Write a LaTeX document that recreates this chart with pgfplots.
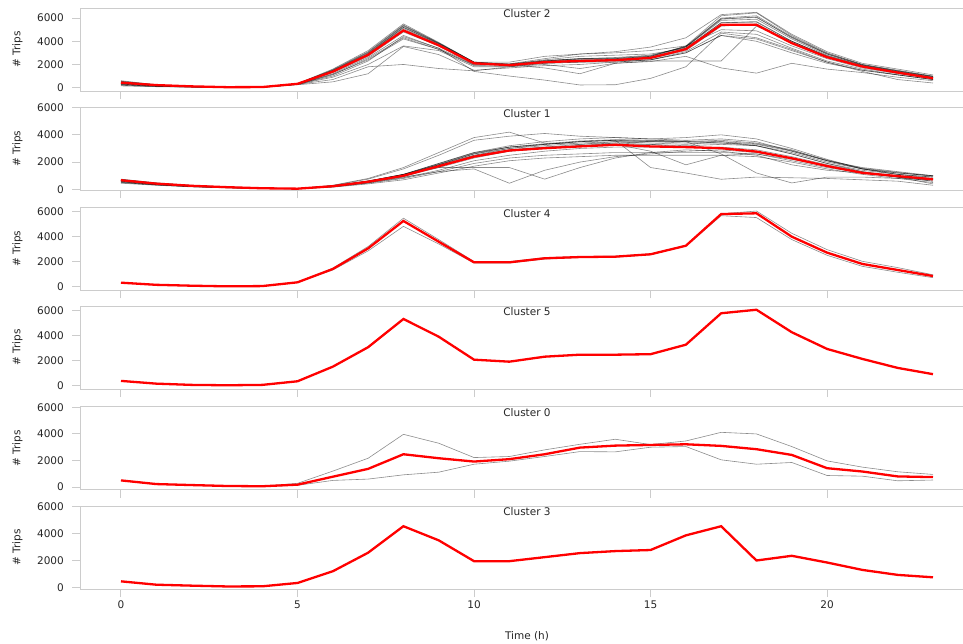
\documentclass[border=0pt]{standalone}
\usepackage{pgfplots}
\pgfplotsset{compat=1.18}
\usepackage{fontspec}
\setmainfont{DejaVu Sans}
\definecolor{spine}{HTML}{CCCCCC}
\definecolor{txt}{HTML}{262626}
\newcommand{\lbl}{\fontsize{10.5}{12}\selectfont}
\newcommand{\ptitle}[1]{\node[font=\lbl, text=txt] at (rel axis cs:0.506,0.928) {#1};}
\pgfplotsset{
  panel/.style={
    scale only axis, width=882.6pt, height=83pt,
    xmin=-1.15, xmax=23.85,
    axis x line=box, axis y line*=left,
    axis line style={spine, line width=1pt},
    xtick={0,5,10,15,20}, ytick={0,2000,4000,6000},
    xtick pos=left, ytick pos=left,
    tick align=outside, major tick length=8pt,
    tick style={spine, line width=1pt},
    scaled y ticks=false,
    /pgf/number format/1000 sep={},
    /pgf/number format/assume math mode=true,
    tick label style={font=\lbl, text=txt},
    yticklabel={\pgfmathprintnumber{\tick}\kern5pt},
    ylabel={\# Trips},
    ylabel style={at={(axis description cs:-0.0713,0.5)}, anchor=center, font=\lbl, text=txt},
  },
  gr/.style={black, opacity=0.45, line width=0.6pt},
  rd/.style={red, line width=2.3pt},
}
\begin{document}
\begin{tikzpicture}
\path[use as bounding box] (-80.4pt,0pt) rectangle (882.6pt,-643pt);

% Cluster 2
\begin{axis}[panel, at={(0pt,-8pt)}, anchor=north west, ymin=-290, ymax=6870, xticklabels={}]
\addplot[gr] coordinates {(0,600)(1,250)(2,120)(3,50)(4,60)(5,350)(6,1600)(7,3200)(8,5500)(9,3900)(10,2200)(11,2000)(12,2300)(13,2500)(14,2500)(15,2700)(16,3600)(17,6200)(18,6450)(19,4500)(20,3000)(21,2000)(22,1500)(23,1000)};
\addplot[gr] coordinates {(0,500)(1,220)(2,100)(3,40)(4,50)(5,330)(6,1500)(7,3000)(8,5300)(9,3800)(10,2150)(11,1950)(12,2250)(13,2400)(14,2450)(15,2650)(16,3500)(17,5900)(18,6100)(19,4300)(20,2900)(21,1950)(22,1400)(23,950)};
\addplot[gr] coordinates {(0,450)(1,200)(2,100)(3,40)(4,50)(5,320)(6,1450)(7,2950)(8,5200)(9,3750)(10,2150)(11,1900)(12,2300)(13,2500)(14,2600)(15,2800)(16,3500)(17,5800)(18,5900)(19,4200)(20,2800)(21,1900)(22,1400)(23,900)};
\addplot[gr] coordinates {(0,400)(1,200)(2,90)(3,30)(4,40)(5,310)(6,1350)(7,2800)(8,5000)(9,3700)(10,2100)(11,2000)(12,2400)(13,2700)(14,2800)(15,2900)(16,3400)(17,5600)(18,5700)(19,4000)(20,2700)(21,1800)(22,1300)(23,850)};
\addplot[gr] coordinates {(0,350)(1,180)(2,80)(3,30)(4,40)(5,300)(6,1300)(7,2700)(8,4800)(9,3600)(10,2050)(11,1950)(12,2200)(13,2300)(14,2300)(15,2500)(16,3200)(17,5300)(18,5500)(19,3900)(20,2600)(21,1800)(22,1250)(23,800)};
\addplot[gr] coordinates {(0,300)(1,150)(2,80)(3,30)(4,40)(5,300)(6,1200)(7,2600)(8,4500)(9,3400)(10,2000)(11,2050)(12,2500)(13,2900)(14,3000)(15,3200)(16,3600)(17,5000)(18,4900)(19,3600)(20,2500)(21,1700)(22,1200)(23,800)};
\addplot[gr] coordinates {(0,350)(1,170)(2,80)(3,30)(4,40)(5,290)(6,1150)(7,2400)(8,4200)(9,3300)(10,1900)(11,1850)(12,2100)(13,2200)(14,2300)(15,2400)(16,3100)(17,4800)(18,4600)(19,3400)(20,2300)(21,1600)(22,1100)(23,700)};
\addplot[gr] coordinates {(0,250)(1,120)(2,60)(3,20)(4,30)(5,280)(6,900)(7,2000)(8,3600)(9,3200)(10,1800)(11,1800)(12,2100)(13,2200)(14,2200)(15,2400)(16,3000)(17,4500)(18,4200)(19,3200)(20,2200)(21,1500)(22,1100)(23,700)};
\addplot[gr] coordinates {(0,200)(1,100)(2,50)(3,20)(4,30)(5,280)(6,700)(7,1800)(8,2000)(9,1650)(10,1450)(11,1800)(12,2000)(13,1650)(14,2100)(15,2300)(16,2300)(17,2300)(18,5300)(19,4000)(20,2700)(21,1800)(22,1300)(23,850)};
\addplot[gr] coordinates {(0,150)(1,80)(2,40)(3,20)(4,30)(5,250)(6,500)(7,1200)(8,3550)(9,2850)(10,1500)(11,1700)(12,1900)(13,2000)(14,2200)(15,2400)(16,3000)(17,4500)(18,4000)(19,3000)(20,2100)(21,1500)(22,1100)(23,700)};
\addplot[gr] coordinates {(0,250)(1,120)(2,60)(3,20)(4,30)(5,300)(6,1000)(7,2300)(8,4400)(9,3400)(10,1400)(11,1000)(12,650)(13,230)(14,250)(15,800)(16,1800)(17,4700)(18,4300)(19,3300)(20,2200)(21,1400)(22,700)(23,400)};
\addplot[gr] coordinates {(0,300)(1,150)(2,70)(3,30)(4,40)(5,300)(6,1100)(7,2500)(8,4300)(9,3300)(10,1950)(11,1950)(12,1700)(13,1200)(14,2100)(15,2250)(16,2700)(17,1700)(18,1250)(19,2100)(20,1600)(21,1300)(22,900)(23,600)};
\addplot[gr] coordinates {(0,480)(1,230)(2,110)(3,40)(4,50)(5,340)(6,1450)(7,2900)(8,5100)(9,3700)(10,2150)(11,1950)(12,2250)(13,2350)(14,2400)(15,2600)(16,3400)(17,5600)(18,5650)(19,4000)(20,2750)(21,1900)(22,1350)(23,850)};
\addplot[gr] coordinates {(0,550)(1,240)(2,110)(3,45)(4,55)(5,340)(6,1550)(7,3100)(8,5400)(9,3850)(10,2200)(11,2000)(12,2300)(13,2450)(14,2500)(15,2700)(16,3550)(17,6000)(18,6200)(19,4400)(20,2950)(21,2000)(22,1450)(23,980)};
\addplot[gr] coordinates {(0,400)(1,190)(2,90)(3,35)(4,45)(5,310)(6,1400)(7,2900)(8,5200)(9,3800)(10,2200)(11,2200)(12,2700)(13,2900)(14,3100)(15,3500)(16,4300)(17,6300)(18,6500)(19,4600)(20,3100)(21,2100)(22,1600)(23,1100)};
\addplot[gr] coordinates {(0,520)(1,230)(2,110)(3,40)(4,50)(5,340)(6,1500)(7,3050)(8,5350)(9,3850)(10,2200)(11,2050)(12,2350)(13,2500)(14,2550)(15,2750)(16,3550)(17,5950)(18,6050)(19,4350)(20,2900)(21,1950)(22,1450)(23,950)};
\addplot[rd] coordinates {(0,430)(1,220)(2,110)(3,40)(4,50)(5,330)(6,1380)(7,2830)(8,4930)(9,3650)(10,2100)(11,1940)(12,2200)(13,2300)(14,2370)(15,2570)(16,3320)(17,5420)(18,5420)(19,3840)(20,2630)(21,1820)(22,1300)(23,810)};
\ptitle{Cluster 2}
\end{axis}

% Cluster 1
\begin{axis}[panel, at={(0pt,-107.3pt)}, anchor=north west, ymin=-70, ymax=6020, xticklabels={}]
\addplot[gr] coordinates {(0,600)(1,380)(2,230)(3,140)(4,70)(5,50)(6,300)(7,800)(8,1600)(9,2700)(10,3800)(11,4200)(12,3400)(13,3300)(14,3500)(15,3400)(16,3300)(17,3500)(18,3200)(19,2600)(20,1900)(21,1400)(22,1100)(23,900)};
\addplot[gr] coordinates {(0,550)(1,350)(2,220)(3,130)(4,70)(5,50)(6,280)(7,750)(8,1500)(9,2500)(10,3600)(11,3900)(12,4100)(13,3900)(14,3800)(15,3700)(16,3600)(17,3700)(18,3500)(19,2800)(20,2100)(21,1500)(22,1200)(23,1000)};
\addplot[gr] coordinates {(0,700)(1,450)(2,280)(3,170)(4,90)(5,60)(6,250)(7,600)(8,1100)(9,1900)(10,2700)(11,3200)(12,3500)(13,3700)(14,3800)(15,3700)(16,3800)(17,4000)(18,3700)(19,3000)(20,2200)(21,1500)(22,1100)(23,900)};
\addplot[gr] coordinates {(0,750)(1,480)(2,300)(3,180)(4,90)(5,60)(6,240)(7,580)(8,1050)(9,1800)(10,2600)(11,3100)(12,3300)(13,3500)(14,3600)(15,3500)(16,3500)(17,3600)(18,3400)(19,2900)(20,2100)(21,1500)(22,1100)(23,800)};
\addplot[gr] coordinates {(0,650)(1,400)(2,250)(3,150)(4,80)(5,50)(6,220)(7,520)(8,950)(9,1600)(10,2300)(11,2800)(12,3000)(13,3200)(14,3300)(15,3300)(16,3200)(17,3300)(18,3200)(19,2600)(20,1900)(21,1300)(22,1000)(23,700)};
\addplot[gr] coordinates {(0,600)(1,380)(2,230)(3,140)(4,70)(5,50)(6,200)(7,480)(8,850)(9,1400)(10,2100)(11,2500)(12,2800)(13,3000)(14,3100)(15,3100)(16,3100)(17,3100)(18,2900)(19,2400)(20,1800)(21,1300)(22,900)(23,600)};
\addplot[gr] coordinates {(0,500)(1,320)(2,200)(3,120)(4,60)(5,40)(6,180)(7,450)(8,800)(9,1300)(10,1900)(11,2300)(12,2500)(13,2600)(14,2700)(15,2700)(16,2700)(17,2700)(18,2600)(19,2200)(20,1700)(21,1200)(22,900)(23,600)};
\addplot[gr] coordinates {(0,450)(1,300)(2,180)(3,110)(4,60)(5,40)(6,160)(7,400)(8,700)(9,1200)(10,1700)(11,2100)(12,2300)(13,2400)(14,2500)(15,2500)(16,2500)(17,2500)(18,2400)(19,2000)(20,1500)(21,1100)(22,800)(23,500)};
\addplot[gr] coordinates {(0,500)(1,330)(2,200)(3,120)(4,60)(5,40)(6,200)(7,500)(8,900)(9,1300)(10,1500)(11,450)(12,1400)(13,2000)(14,2400)(15,2600)(16,2800)(17,2900)(18,2700)(19,2300)(20,1700)(21,1200)(22,900)(23,400)};
\addplot[gr] coordinates {(0,550)(1,350)(2,210)(3,130)(4,70)(5,50)(6,210)(7,500)(8,1100)(9,1600)(10,1600)(11,1600)(12,750)(13,1600)(14,2300)(15,2700)(16,2900)(17,2800)(18,2500)(19,1800)(20,1400)(21,1200)(22,1000)(23,700)};
\addplot[gr] coordinates {(0,650)(1,400)(2,250)(3,150)(4,80)(5,50)(6,250)(7,600)(8,1100)(9,1900)(10,2700)(11,3100)(12,3300)(13,3500)(14,3600)(15,1600)(16,1200)(17,740)(18,900)(19,850)(20,800)(21,700)(22,600)(23,300)};
\addplot[gr] coordinates {(0,700)(1,430)(2,260)(3,160)(4,80)(5,50)(6,240)(7,580)(8,1000)(9,1700)(10,2500)(11,2900)(12,3100)(13,3200)(14,3400)(15,3500)(16,3500)(17,2600)(18,1200)(19,470)(20,900)(21,900)(22,800)(23,700)};
\addplot[gr] coordinates {(0,680)(1,420)(2,260)(3,160)(4,80)(5,50)(6,230)(7,560)(8,1000)(9,1700)(10,2400)(11,2900)(12,3100)(13,3300)(14,3400)(15,3300)(16,3100)(17,3000)(18,2800)(19,2300)(20,1700)(21,1200)(22,950)(23,750)};
\addplot[gr] coordinates {(0,650)(1,410)(2,260)(3,160)(4,80)(5,50)(6,230)(7,600)(8,1050)(9,1800)(10,2500)(11,3000)(12,3200)(13,3400)(14,3500)(15,3500)(16,3400)(17,3400)(18,3200)(19,2700)(20,2000)(21,1500)(22,1200)(23,1000)};
\addplot[gr] coordinates {(0,700)(1,440)(2,270)(3,170)(4,90)(5,60)(6,260)(7,620)(8,1100)(9,1800)(10,2600)(11,3000)(12,3300)(13,3500)(14,3600)(15,3600)(16,3500)(17,3400)(18,3300)(19,2800)(20,2100)(21,1600)(22,1300)(23,1000)};
\addplot[gr] coordinates {(0,600)(1,380)(2,230)(3,140)(4,70)(5,50)(6,220)(7,540)(8,950)(9,1700)(10,2400)(11,2800)(12,3000)(13,3200)(14,3300)(15,2800)(16,1800)(17,2500)(18,2600)(19,2100)(20,1600)(21,1200)(22,900)(23,700)};
\addplot[gr] coordinates {(0,720)(1,450)(2,280)(3,170)(4,90)(5,60)(6,250)(7,610)(8,1080)(9,1850)(10,2650)(11,3100)(12,3350)(13,3550)(14,3650)(15,3600)(16,3550)(17,3500)(18,3350)(19,2850)(20,2150)(21,1550)(22,1250)(23,950)};
\addplot[rd] coordinates {(0,670)(1,420)(2,260)(3,160)(4,80)(5,50)(6,230)(7,560)(8,1000)(9,1700)(10,2400)(11,2850)(12,3020)(13,3150)(14,3270)(15,3150)(16,3100)(17,3020)(18,2770)(19,2280)(20,1710)(21,1210)(22,970)(23,740)};
\ptitle{Cluster 1}
\end{axis}

% Cluster 4
\begin{axis}[panel, at={(0pt,-207.3pt)}, anchor=north west, ymin=-286, ymax=6317, xticklabels={}]
\addplot[gr] coordinates {(0,330)(1,160)(2,90)(3,35)(4,55)(5,360)(6,1480)(7,3200)(8,5450)(9,3750)(10,2000)(11,2000)(12,2320)(13,2400)(14,2430)(15,2620)(16,3290)(17,5800)(18,6020)(19,4250)(20,2950)(21,2020)(22,1520)(23,950)};
\addplot[gr] coordinates {(0,300)(1,140)(2,70)(3,25)(4,45)(5,340)(6,1330)(7,2850)(8,4800)(9,3400)(10,1880)(11,1880)(12,2200)(13,2320)(14,2350)(15,2540)(16,3230)(17,5650)(18,5500)(19,3750)(20,2500)(21,1620)(22,1150)(23,720)};
\addplot[rd] coordinates {(0,320)(1,150)(2,80)(3,30)(4,50)(5,350)(6,1410)(7,3050)(8,5230)(9,3580)(10,1940)(11,1940)(12,2260)(13,2360)(14,2390)(15,2580)(16,3260)(17,5780)(18,5840)(19,3980)(20,2710)(21,1810)(22,1330)(23,850)};
\ptitle{Cluster 4}
\end{axis}

% Cluster 5
\begin{axis}[panel, at={(0pt,-306pt)}, anchor=north west, ymin=-250, ymax=6400, xticklabels={}]
\addplot[rd] coordinates {(0,400)(1,180)(2,80)(3,50)(4,80)(5,370)(6,1540)(7,3100)(8,5360)(9,3940)(10,2100)(11,1940)(12,2340)(13,2500)(14,2500)(15,2540)(16,3300)(17,5820)(18,6100)(19,4300)(20,2960)(21,2160)(22,1440)(23,940)};
\ptitle{Cluster 5}
\end{axis}

% Cluster 0
\begin{axis}[panel, at={(0pt,-406.7pt)}, anchor=north west, ymin=-200, ymax=6050, xticklabels={}]
\addplot[gr] coordinates {(0,520)(1,240)(2,160)(3,90)(4,70)(5,280)(6,1200)(7,2170)(8,3970)(9,3300)(10,2220)(11,2300)(12,2800)(13,3220)(14,3600)(15,3200)(16,3470)(17,4120)(18,4000)(19,3050)(20,1970)(21,1500)(22,1150)(23,950)};
\addplot[gr] coordinates {(0,480)(1,210)(2,140)(3,70)(4,50)(5,130)(6,500)(7,600)(8,920)(9,1120)(10,1720)(11,1950)(12,2300)(13,2670)(14,2650)(15,3000)(16,3050)(17,2050)(18,1720)(19,1850)(20,870)(21,820)(22,470)(23,530)};
\addplot[rd] coordinates {(0,500)(1,225)(2,150)(3,80)(4,60)(5,180)(6,780)(7,1370)(8,2470)(9,2170)(10,1920)(11,2100)(12,2470)(13,2970)(14,3120)(15,3170)(16,3220)(17,3100)(18,2850)(19,2420)(20,1420)(21,1170)(22,800)(23,750)};
\ptitle{Cluster 0}
\end{axis}

% Cluster 3
\begin{axis}[panel, at={(0pt,-506pt)}, anchor=north west, ymin=-120, ymax=6054,
  xticklabel={\raisebox{-7pt}{\pgfmathprintnumber{\tick}}},
  xlabel={Time (h)}, xlabel style={at={(axis description cs:0.506,-0.567)}, anchor=center, font=\lbl, text=txt}]
\addplot[rd] coordinates {(0,450)(1,200)(2,130)(3,70)(4,80)(5,330)(6,1200)(7,2580)(8,4550)(9,3500)(10,1950)(11,1950)(12,2250)(13,2550)(14,2700)(15,2780)(16,3870)(17,4550)(18,2000)(19,2350)(20,1850)(21,1300)(22,930)(23,750)};
\ptitle{Cluster 3}
\end{axis}
\end{tikzpicture}
\end{document}
